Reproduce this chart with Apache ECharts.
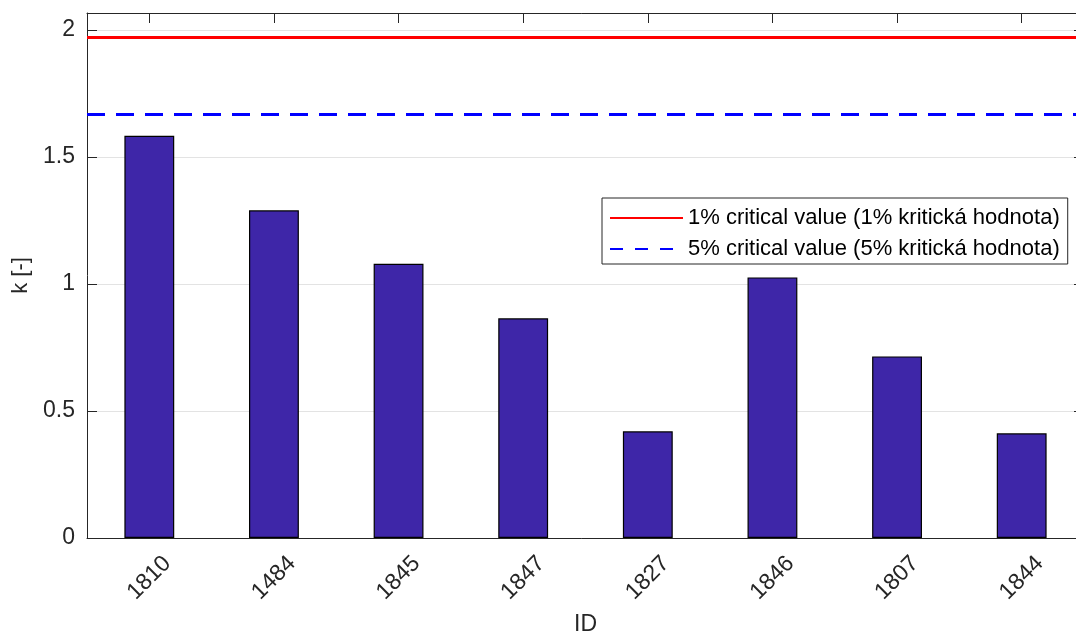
<!DOCTYPE html>
<html>
<head>
<meta charset="utf-8">
<script src="https://cdn.jsdelivr.net/npm/echarts@6/dist/echarts.min.js"></script>
<style>
  html, body { margin: 0; padding: 0; background: #fff; overflow: hidden; }
  #chart { width: 1076px; height: 635px; }
</style>
</head>
<body>
<div id="chart"></div>
<script>
// ---- data ----
const categories = ['1810', '1484', '1845', '1847', '1827', '1846', '1807', '1844'];
const kValues = [1.584, 1.290, 1.080, 0.865, 0.420, 1.026, 0.715, 0.412];
const criticalNames = ['1% critical value (1% kritická hodnota)', '5% critical value (5% kritická hodnota)'];
const criticalValues = [1.971, 1.669];
const yMin = 0;
const yMax = 2.067;
const yInterval = 0.5;

const FONT = 'Liberation Sans, Arial, Helvetica, sans-serif';
const TXT = '#262626';

const chart = echarts.init(document.getElementById('chart'), null, { renderer: 'canvas' });

const option = {
  animation: false,
  backgroundColor: '#ffffff',
  grid: { left: 87, top: 13, width: 997, height: 525, containLabel: false, outerBoundsMode: 'none' },
  legend: {
    data: criticalNames,
    orient: 'vertical',
    left: 602,
    top: 198,
    padding: [9, 8, 4, 7],
    itemGap: 9,
    itemWidth: 73,
    itemHeight: 14,
    backgroundColor: '#ffffff',
    borderColor: TXT,
    borderWidth: 1,
    borderRadius: 0,
    selectedMode: false,
    itemStyle: { opacity: 0 },
    textStyle: { fontFamily: FONT, fontSize: 22, color: '#000', lineHeight: 22 }
  },
  xAxis: [
    {
      type: 'category',
      data: categories,
      position: 'bottom',
      name: 'ID',
      nameLocation: 'middle',
      nameGap: 75,
      nameTextStyle: { fontFamily: FONT, fontSize: 23, color: TXT },
      axisLine: { show: true, onZero: false, lineStyle: { color: TXT, width: 1 } },
      axisTick: { show: true, inside: true, length: 10, alignWithLabel: true, interval: 0, lineStyle: { color: TXT } },
      axisLabel: {
        show: true, rotate: 45, margin: 40, align: 'center', verticalAlign: 'middle',
        fontFamily: FONT, fontSize: 23, color: TXT, interval: 0
      },
      splitLine: { show: false }
    },
    {
      type: 'category',
      data: categories,
      position: 'top',
      axisLine: { show: true, onZero: false, lineStyle: { color: TXT, width: 1 } },
      axisTick: { show: true, inside: true, length: 10, alignWithLabel: true, interval: 0, lineStyle: { color: TXT } },
      axisLabel: { show: false, interval: 0 },
      splitLine: { show: false }
    }
  ],
  yAxis: [
    {
      type: 'value',
      min: yMin,
      max: yMax,
      interval: yInterval,
      position: 'left',
      name: 'k [-]',
      nameLocation: 'middle',
      nameGap: 52,
      nameTextStyle: { fontFamily: FONT, fontSize: 22, color: TXT },
      axisLine: { show: true, onZero: false, lineStyle: { color: TXT, width: 1 } },
      axisTick: { show: true, inside: true, length: 10, lineStyle: { color: TXT } },
      axisLabel: {
        show: true, margin: 12, fontFamily: FONT, fontSize: 23, color: TXT,
        showMaxLabel: false,
        formatter: function (v) { return String(Math.round(v * 10) / 10); }
      },
      splitLine: { show: true, lineStyle: { color: '#e3e3e3', width: 1 } }
    },
    {
      type: 'value',
      min: yMin,
      max: yMax,
      interval: yInterval,
      position: 'right',
      axisLine: { show: true, onZero: false, lineStyle: { color: TXT, width: 1 } },
      axisTick: { show: true, inside: true, length: 10, lineStyle: { color: TXT } },
      axisLabel: { show: false },
      splitLine: { show: false }
    }
  ],
  series: [
    {
      type: 'bar',
      name: 'k',
      data: kValues,
      xAxisIndex: 0,
      yAxisIndex: 0,
      barWidth: '40%',
      itemStyle: { color: '#3E26A8', borderColor: '#000000', borderWidth: 1.2 },
      z: 3
    },
    {
      type: 'line',
      name: criticalNames[0],
      data: [],
      symbol: 'none',
      lineStyle: { color: '#ff0000', width: 2, type: 'solid' },
      itemStyle: { color: '#ff0000' },
      markLine: {
        silent: true,
        symbol: ['none', 'none'],
        label: { show: false },
        lineStyle: { color: '#ff0000', width: 3, type: 'solid' },
        data: [{ yAxis: criticalValues[0] }]
      },
      z: 4
    },
    {
      type: 'line',
      name: criticalNames[1],
      data: [],
      symbol: 'none',
      lineStyle: { color: '#0000ff', width: 2, type: [13, 12] },
      itemStyle: { color: '#0000ff' },
      markLine: {
        silent: true,
        symbol: ['none', 'none'],
        label: { show: false },
        lineStyle: { color: '#0000ff', width: 3, type: [18, 11] },
        data: [{ yAxis: criticalValues[1] }]
      },
      z: 4
    }
  ]
};

chart.setOption(option);
</script>
</body>
</html>
